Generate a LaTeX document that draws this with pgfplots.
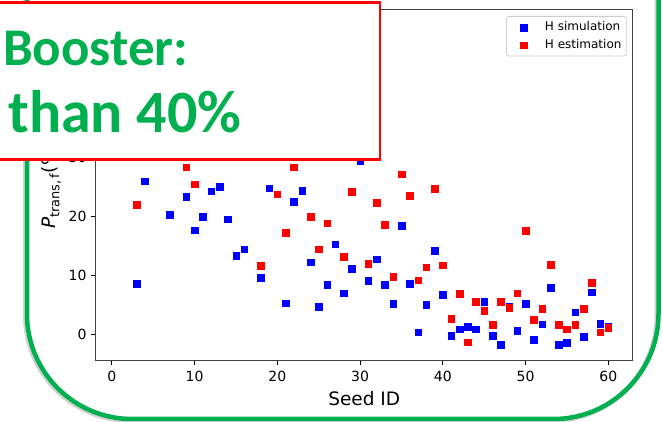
\documentclass[border=0pt]{standalone}
\usepackage{pgfplots}
\pgfplotsset{compat=1.18}
\usepackage{fontspec}
\setmainfont{DejaVu Sans}
\newfontfamily\slidefont{Carlito}
\definecolor{slidegreen}{RGB}{0,176,80}
\definecolor{simblue}{RGB}{0,0,255}
\definecolor{estred}{RGB}{255,0,0}

% H simulation (blue) and H estimation (red), by seed
\pgfplotstableread{
seed val
3 8.5
4 25.9
7 20.2
9 23.3
10 17.6
11 19.9
12 24.2
13 25.0
14 19.5
15 13.3
16 14.4
18 9.6
19 24.7
21 5.25
22 22.4
23 24.3
24 12.2
25 4.6
26 8.4
27 15.2
28 6.95
29 11.1
30 29.3
31 9.0
32 12.7
33 8.4
34 5.1
35 18.4
36 8.5
37 0.34
38 5.0
39 14.1
40 6.7
41 -0.23
42 0.8
43 1.2
44 0.85
45 5.5
46 -0.23
47 -1.8
48 4.75
49 0.6
50 5.1
51 -1.0
52 1.7
53 7.9
54 -1.8
55 -1.5
56 3.7
57 -0.4
58 7.1
59 1.8
60 1.35
}\simdata

\pgfplotstableread{
seed val
3 21.9
9 28.3
10 25.4
18 11.6
20 23.7
21 17.2
22 28.3
24 19.9
25 14.4
26 18.8
28 13.1
29 24.1
31 11.9
32 22.3
33 18.5
34 9.7
35 27.1
36 23.4
37 9.1
38 11.35
39 24.6
40 11.7
41 2.65
42 6.8
43 -1.4
44 5.5
45 3.95
46 1.6
47 5.5
48 4.5
49 6.95
50 17.5
51 2.4
52 4.3
53 11.75
54 1.6
55 0.85
56 1.6
57 4.35
58 8.7
59 0.34
60 1.07
}\estdata

\begin{document}
\begin{tikzpicture}
\useasboundingbox[fill=white] (0bp,0bp) rectangle (663bp,422bp);

% slide frame: soft shadow and green rounded border
\begin{scope}
\clip (0bp,0bp) rectangle (663bp,422bp);
\draw[black!18, line width=5bp, rounded corners=105bp]
  (25.5bp,1.5bp) rectangle (657bp,540bp);
\draw[slidegreen, line width=4.5bp, rounded corners=105bp]
  (27bp,3bp) rectangle (658.5bp,540bp);
\end{scope}

\begin{axis}[
  at={(95.7bp,61.3bp)}, anchor=south west,
  scale only axis, width=537bp, height=351.4bp,
  xmin=-1.95, xmax=62.95, ymin=-4.52, ymax=55.03,
  xtick={0,10,...,60}, ytick={0,10,20,30},
  xtick pos=bottom, ytick pos=left,
  tick align=outside, major tick length=4.7bp,
  every tick/.style={black, line width=1bp},
  axis line style={black!75, line width=1bp},
  /pgf/number format/assume math mode=true,
  tick label style={font=\fontsize{14bp}{16bp}\selectfont, inner sep=0pt},
  xticklabel style={anchor=north, yshift=-5.3bp},
  yticklabel style={anchor=east, xshift=-4.3bp},
  xlabel={Seed ID},
  every axis x label/.style={at={(rel axis cs:0.5,0)}, anchor=base, yshift=-44.3bp,
    font=\fontsize{18.5bp}{20bp}\selectfont},
  ylabel={\textit{P}\textsubscript{trans,\,f}(\%)},
  every axis y label/.style={at={(rel axis cs:0,0.5)}, xshift=-40.2bp, rotate=90, anchor=base,
    font=\fontsize{18.5bp}{20bp}\selectfont},
  legend cell align=left,
  legend style={at={(rel axis cs:0.9888,0.981)}, anchor=north east,
    draw=black!20, line width=0.8bp, rounded corners=2.5bp,
    fill=white, fill opacity=0.8, text opacity=1,
    font=\fontsize{12bp}{14bp}\selectfont,
    inner xsep=4.8bp, inner ysep=5bp, row sep=5.7bp, column sep=9.6bp,
    nodes={inner sep=0pt, text height=9bp, text depth=3bp}},
  legend image code/.code={%
    \path[draw=none] (0bp,0bp) -- (24bp,0bp);
    \path[mark repeat=2, mark phase=2, #1, draw=none, fill opacity=1, draw opacity=1]
      plot coordinates {(0bp,0bp) (12bp,0bp) (24bp,0bp)};},
]
\addplot[only marks, mark=square*, mark size=3.3bp,
  mark options={fill=simblue, draw=simblue, line width=0.3bp}]
  table[x=seed, y=val] {\simdata};
\addlegendentry{H simulation}
\addplot[only marks, mark=square*, mark size=3.3bp,
  mark options={fill=estred, draw=estred, line width=0.3bp}]
  table[x=seed, y=val] {\estdata};
\addlegendentry{H estimation}
\end{axis}

% callout box laid over the chart
\begin{scope}
\clip (0bp,0bp) rectangle (663bp,422bp);
\draw[estred, line width=2.5bp, fill=white] (-10bp,262.3bp) rectangle (380bp,419.5bp);
\end{scope}
\node[anchor=base west, inner sep=0pt, text=slidegreen,
  font=\slidefont\bfseries\fontsize{53bp}{60bp}\selectfont] at (3bp,356bp) {Booster:};
\node[anchor=base west, inner sep=0pt, text=slidegreen,
  font=\slidefont\bfseries\fontsize{60bp}{66bp}\selectfont] at (8bp,289bp) {than 40\%};
\end{tikzpicture}
\end{document}
